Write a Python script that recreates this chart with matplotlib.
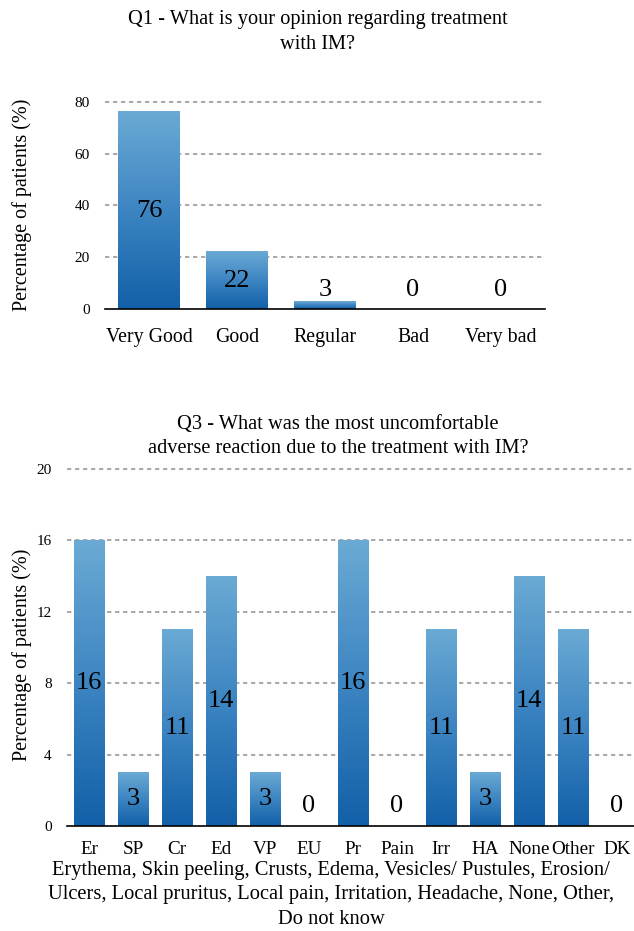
import numpy as np
import matplotlib
matplotlib.use("Agg")
import matplotlib.pyplot as plt
from matplotlib.colors import LinearSegmentedColormap

plt.rcParams['font.family'] = ['Liberation Serif', 'DejaVu Serif']

# ---------------- data ----------------
q1_title = "Q1 - What is your opinion regarding treatment\nwith IM?"
q1_categories = ["Very Good", "Good", "Regular", "Bad", "Very bad"]
q1_values = [76, 22, 3, 0, 0]
q1_yticks = [0, 20, 40, 60, 80]

q3_title = "Q3 - What was the most uncomfortable\nadverse reaction due to the treatment with IM?"
q3_categories = ["Er", "SP", "Cr", "Ed", "VP", "EU", "Pr", "Pain", "Irr", "HA", "None", "Other", "DK"]
q3_values = [16, 3, 11, 14, 3, 0, 16, 0, 11, 3, 14, 11, 0]
q3_yticks = [0, 4, 8, 12, 16, 20]
q3_xlabel = ["Erythema, Skin peeling, Crusts, Edema, Vesicles/ Pustules, Erosion/",
             "Ulcers, Local pruritus, Local pain, Irritation, Headache, None, Other,",
             "Do not know"]
ylabel = "Percentage of patients (%)"

# ---------------- figure ----------------
W, H = 634, 931
fig = plt.figure(figsize=(W / 100, H / 100), dpi=100)

cmap = LinearSegmentedColormap.from_list("barg", ["#1260a8", "#3d85c2", "#6aaad4"])
grad = np.linspace(0, 1, 256).reshape(-1, 1)


def px_axes(l, t, r, b):
    return fig.add_axes([l / W, 1 - b / H, (r - l) / W, (b - t) / H])


def draw(ax, cats, vals, yticks, tick_fs, cat_fs, cat_pad, val_fs, floor_px):
    x = np.arange(len(cats))
    ymax = yticks[-1]
    for yt in yticks[1:]:
        ax.axhline(yt, color="#9a9a9a", lw=1.2, ls=(0, (2.6, 2.2)), zorder=0, clip_on=False)
    bars = ax.bar(x, vals, width=0.70, color="none", zorder=2)
    for b in bars:
        h = b.get_height()
        if h <= 0:
            continue
        x0 = b.get_x()
        ax.imshow(grad, extent=[x0, x0 + b.get_width(), 0, h], origin="lower",
                  cmap=cmap, aspect="auto", zorder=2, interpolation="bilinear")
    ax.set_xlim(-0.5, len(cats) - 0.5)
    ax.set_ylim(0, ymax)
    ax_h_px = ax.get_position().height * H
    floor = floor_px / ax_h_px * ymax
    for xi, v in zip(x, vals):
        ax.text(xi, max(v / 2, floor), f"{v}", ha="center", va="center",
                fontsize=val_fs, color="black", zorder=4)
    for s in ["top", "right", "left"]:
        ax.spines[s].set_visible(False)
    ax.spines["bottom"].set_linewidth(1.2)
    ax.spines["bottom"].set_zorder(5)
    ax.set_yticks(yticks)
    ax.set_yticklabels([str(t) for t in yticks], fontsize=tick_fs)
    ax.tick_params(axis="y", length=0, pad=11)
    ax.set_xticks(x)
    ax.set_xticklabels(cats, fontsize=cat_fs)
    ax.tick_params(axis="x", length=0, pad=cat_pad)


# Top chart
ax1 = px_axes(105, 101.7, 545, 309.3)
draw(ax1, q1_categories, q1_values, q1_yticks, 11, 14.3, 13.5, 19, 19.5)
fig.text(318 / W, 1 - 32 / H, q1_title, ha="center", va="center", fontsize=14.7,
         linespacing=1.4)
fig.text(22 / W, 1 - 205 / H, ylabel, rotation=90, ha="center", va="center", fontsize=14.5)

# Bottom chart
ax2 = px_axes(67, 469, 639, 826)
draw(ax2, q3_categories, q3_values, q3_yticks, 11, 13.8, 11, 19, 20)
fig.text(338 / W, 1 - 436.5 / H, q3_title, ha="center", va="center", fontsize=14.7,
         linespacing=1.4)
fig.text(22 / W, 1 - 655 / H, ylabel, rotation=90, ha="center", va="center", fontsize=14.5)
fig.text(331 / W, 1 - 895 / H, "\n".join(q3_xlabel), ha="center", va="center",
         fontsize=14.8, linespacing=1.4)

fig.savefig("out.png", dpi=100)
